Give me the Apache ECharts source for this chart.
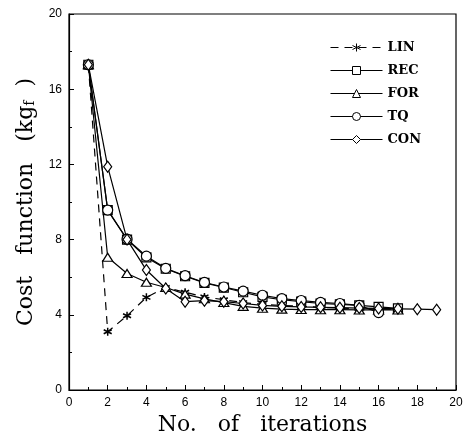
<!DOCTYPE html>
<html>
<head>
<meta charset="utf-8">
<script src="https://cdn.jsdelivr.net/npm/echarts@6/dist/echarts.min.js"></script>
<style>
  html, body { margin: 0; padding: 0; background: #fff; }
  #chart { width: 473px; height: 435px; }
</style>
</head>
<body>
<div id="chart"></div>
<script>
// Iteration numbers and cost function history (kgf) for each method
const iterations = [1, 2, 3, 4, 5, 6, 7, 8, 9, 10, 11, 12, 13, 14, 15, 16, 17, 18, 19];
const seriesNames = ['LIN', 'REC', 'FOR', 'TQ', 'CON'];
const linCost = [17.3, 3.1, 3.95, 4.93, 5.45, 5.2, 4.95, 4.8, 4.65, 4.55, 4.5, 4.45, 4.4, 4.35, 4.32, 4.3, 4.3];
const recCost = [17.3, 9.57, 8.0, 7.05, 6.45, 6.05, 5.7, 5.45, 5.2, 4.95, 4.8, 4.7, 4.6, 4.55, 4.5, 4.42, 4.34];
const forCost = [17.3, 7.06, 6.2, 5.73, 5.45, 5.1, 4.85, 4.65, 4.45, 4.35, 4.3, 4.28, 4.27, 4.27, 4.26, 4.26, 4.26];
const tqCost  = [17.3, 9.57, 8.02, 7.12, 6.47, 6.08, 5.72, 5.48, 5.26, 5.04, 4.86, 4.76, 4.66, 4.6, 4.5, 4.12];
const conCost = [17.3, 11.88, 8.0, 6.38, 5.4, 4.7, 4.75, 4.7, 4.6, 4.5, 4.45, 4.42, 4.4, 4.38, 4.36, 4.34, 4.32, 4.3, 4.27];
const xTicks = [0, 2, 4, 6, 8, 10, 12, 14, 16, 18, 20];
const yTicks = [0, 4, 8, 12, 16, 20];

const pairs = vals => vals.map((v, i) => [iterations[i], v]);

const asterisk = 'path://M5,0L5,10M0.67,2.5L9.33,7.5M0.67,7.5L9.33,2.5';

const base = {
  type: 'line',
  color: '#000',
  lineStyle: { color: '#000', width: 1.2 },
  itemStyle: { color: '#fff', borderColor: '#000', borderWidth: 1.2 },
  emphasis: { disabled: true },
  animation: false
};

const chart = echarts.init(document.getElementById('chart'), null, { renderer: 'canvas' });
chart.setOption({
  backgroundColor: '#fff',
  animation: false,
  grid: {
    left: 69, right: 17, top: 14, bottom: 45,
    containLabel: false, outerBoundsMode: 'none',
    show: true, borderColor: '#000', borderWidth: 1.2, backgroundColor: 'transparent'
  },
  legend: {
    data: seriesNames,
    orient: 'vertical',
    left: 325,
    top: 36,
    itemWidth: 52,
    itemHeight: 10,
    itemGap: 10,
    itemStyle: { borderWidth: 1 },
    lineStyle: { width: 1 },
    textStyle: { fontFamily: 'DejaVu Serif', fontWeight: 'bold', fontSize: 13, color: '#000', lineHeight: 13 }
  },
  xAxis: {
    type: 'value',
    min: 0, max: 20, interval: 2,
    name: 'No.   of   iterations',
    nameLocation: 'middle',
    nameGap: 15,
    nameTextStyle: { fontFamily: 'DejaVu Serif', fontSize: 22, color: '#000', verticalAlign: 'top' },
    axisLine: { lineStyle: { color: '#000', width: 1.2 } },
    axisTick: { inside: true, length: 5, lineStyle: { color: '#000' } },
    minorTick: { show: true, splitNumber: 2, length: 3, lineStyle: { color: '#000' } },
    axisLabel: {
      margin: 7, color: '#000', fontFamily: 'Liberation Sans', fontSize: 12,
      formatter: v => (xTicks.indexOf(v) >= 0 ? String(v) : '')
    },
    splitLine: { show: false }
  },
  yAxis: {
    type: 'value',
    min: 0, max: 20, interval: 4,
    name: 'Cost   function   (kg{sub|f}  )',
    nameLocation: 'middle',
    nameGap: 28,
    nameRotate: 90,
    nameTextStyle: {
      fontFamily: 'DejaVu Serif', fontSize: 22, color: '#000',
      rich: { sub: { fontFamily: 'DejaVu Serif', fontSize: 14, color: '#000', verticalAlign: 'bottom', padding: [9, 0, 0, 0] } }
    },
    axisLine: { lineStyle: { color: '#000', width: 1.2 } },
    axisTick: { inside: true, length: 5, lineStyle: { color: '#000' } },
    minorTick: { show: true, splitNumber: 2, length: 3, lineStyle: { color: '#000' } },
    axisLabel: {
      margin: 7, color: '#000', fontFamily: 'Liberation Sans', fontSize: 12,
      formatter: v => (yTicks.indexOf(v) >= 0 ? String(v) : '')
    },
    splitLine: { show: false }
  },
  series: [
    Object.assign({}, base, {
      name: 'LIN', data: pairs(linCost),
      symbol: asterisk, symbolSize: 8,
      lineStyle: { color: '#000', width: 1.2, type: [8, 6] },
      itemStyle: { color: '#000', borderColor: '#000', borderWidth: 1.5 }
    }),
    Object.assign({}, base, { name: 'REC', data: pairs(recCost), symbol: 'rect', symbolSize: 9 }),
    Object.assign({}, base, { name: 'FOR', data: pairs(forCost), symbol: 'triangle', symbolSize: [10, 8] }),
    Object.assign({}, base, { name: 'TQ', data: pairs(tqCost), symbol: 'circle', symbolSize: 10 }),
    Object.assign({}, base, { name: 'CON', data: pairs(conCost), symbol: 'diamond', symbolSize: [8, 11] })
  ]
});
</script>
</body>
</html>
